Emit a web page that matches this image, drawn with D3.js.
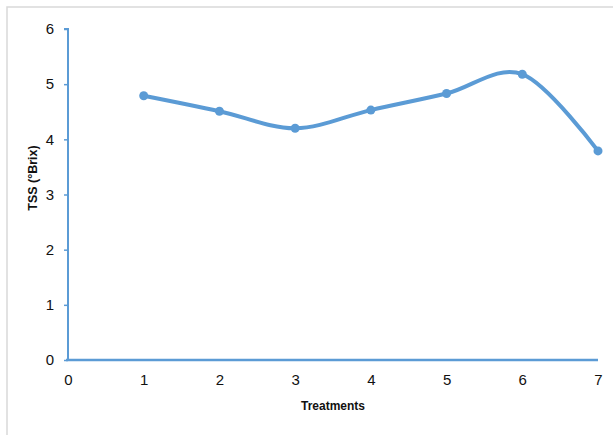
<!DOCTYPE html>
<html><head><meta charset="utf-8">
<script src="https://cdnjs.cloudflare.com/ajax/libs/d3/7.8.5/d3.min.js"></script>
<style>body{margin:0;background:#fff}svg{display:block}</style>
</head><body>
<script>
const treatments = [1, 2, 3, 4, 5, 6, 7];
const tss = [4.79, 4.51, 4.20, 4.53, 4.83, 5.18, 3.79];
const xTicks = [0, 1, 2, 3, 4, 5, 6, 7];
const yTicks = [0, 1, 2, 3, 4, 5, 6];

const W = 613, H = 435;
const svg = d3.select("body").append("svg").attr("width", W).attr("height", H);
const blue = "#5B9BD5";

// chart frame (top and left visible)
svg.append("path").attr("d", "M7,435 V7 H613").attr("fill", "none").attr("stroke", "#d9d9d9").attr("stroke-width", 1.5);

const x = d3.scaleLinear().domain([0, 7]).range([68, 598]);
const y = d3.scaleLinear().domain([0, 6]).range([360, 29]);

// y axis
const yAxis = svg.append("g").attr("transform", "translate(68,0)")
  .call(d3.axisLeft(y).tickValues(yTicks).tickFormat(d3.format("d")).tickSize(4).tickPadding(10));
yAxis.select(".domain").attr("stroke", blue).attr("stroke-width", 2).attr("d", `M-4,${y(6)}H0V${y(0)}`);
yAxis.selectAll(".tick line").attr("stroke", blue).attr("stroke-width", 1.5);
yAxis.selectAll("text").attr("font-family", "Liberation Sans, Arial, sans-serif").attr("font-size", 15).attr("fill", "#111");

// x axis
const xAxis = svg.append("g").attr("transform", "translate(0,360)")
  .call(d3.axisBottom(x).tickValues(xTicks).tickFormat(d3.format("d")).tickSize(0).tickPadding(14));
xAxis.select(".domain").attr("stroke", blue).attr("stroke-width", 2.5).attr("d", `M${x(0) - 2},0H${x(7)}`);
xAxis.selectAll("text").attr("font-family", "Liberation Sans, Arial, sans-serif").attr("font-size", 15).attr("fill", "#111");

// line
const pts = treatments.map((t, i) => [t, tss[i]]);
const line = d3.line().x(d => x(d[0])).y(d => y(d[1])).curve(d3.curveCatmullRom.alpha(0));
svg.append("path").datum(pts).attr("d", line).attr("fill", "none")
  .attr("stroke", blue).attr("stroke-width", 4).attr("stroke-linecap", "round");
svg.selectAll("circle.m").data(pts).enter().append("circle")
  .attr("cx", d => x(d[0])).attr("cy", d => y(d[1])).attr("r", 4.5).attr("fill", blue);

// axis titles
svg.append("text").attr("x", 333).attr("y", 410).attr("text-anchor", "middle")
  .attr("font-family", "Liberation Sans, Arial, sans-serif").attr("font-size", 12).attr("font-weight", "bold").attr("fill", "#111")
  .text("Treatments");
svg.append("text").attr("transform", "translate(37,178) rotate(-90)").attr("text-anchor", "middle")
  .attr("font-family", "Liberation Sans, Arial, sans-serif").attr("font-size", 12.5).attr("font-weight", "bold").attr("fill", "#111")
  .text("TSS (°Brix)");
</script>
</body></html>
